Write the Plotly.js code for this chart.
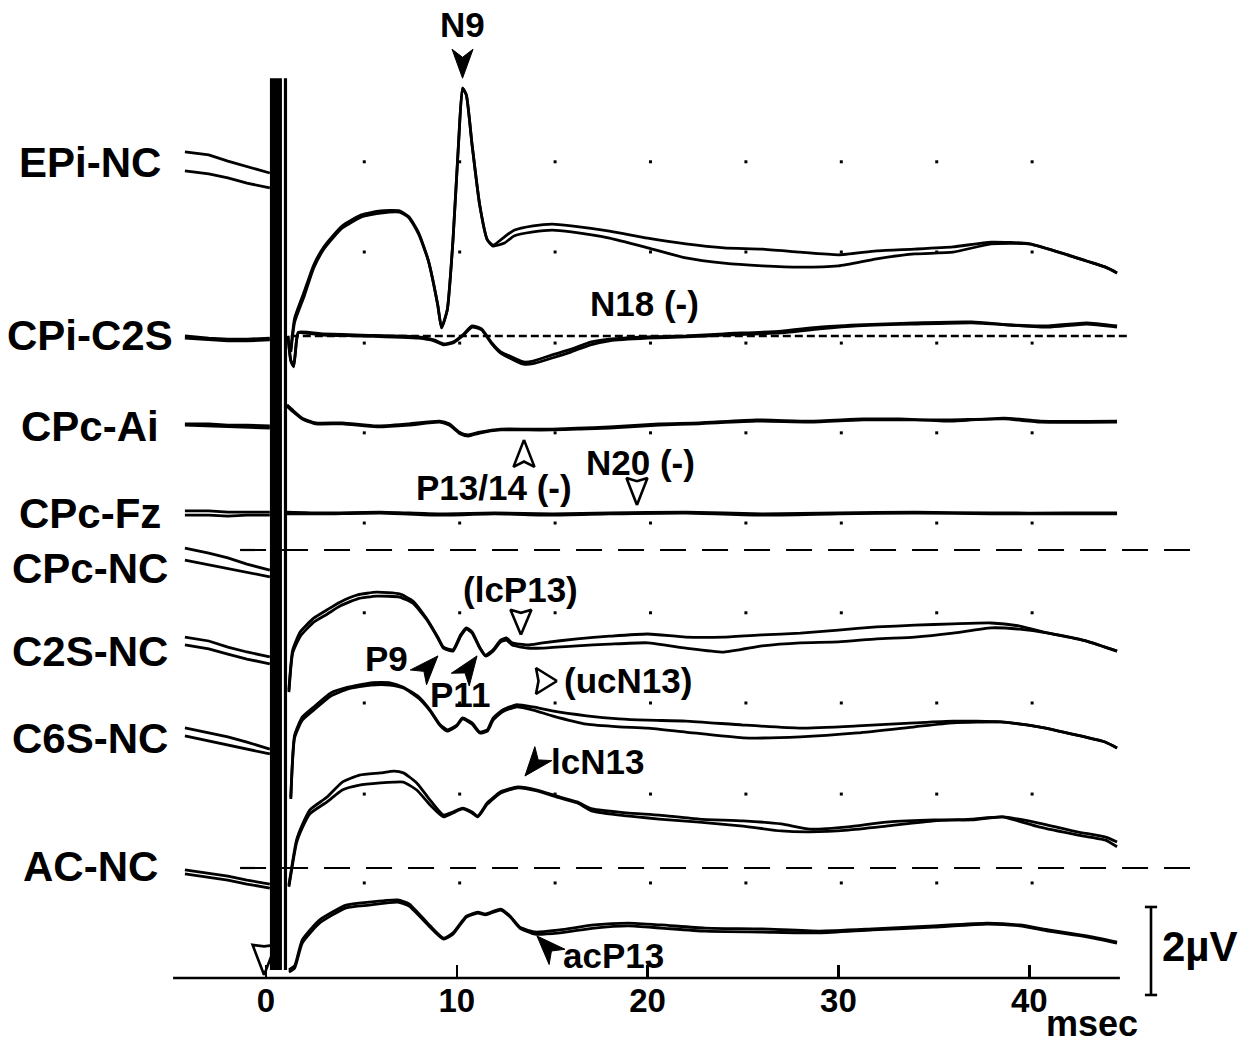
<!DOCTYPE html>
<html><head><meta charset="utf-8">
<script src="https://cdn.plot.ly/plotly-3.0.1.min.js"></script>
<style>html,body{margin:0;padding:0;background:#fff}#chart{width:1249px;height:1045px}</style>
</head><body><div id="chart"></div>
<script>
// ---------------- DATA (µV relative to each channel's reference level; time in msec) ----------------
const channelNames = ['EPi-NC','CPi-C2S','CPc-Ai','CPc-Fz','CPc-NC','C2S-NC','C6S-NC','AC-NC'];
const preTimes = [-4.25, -3, -2, -1, 0.2];

const epiPreA = [0.23, 0.16, 0.02, -0.11, -0.25];
const epiPreB = [-0.20, -0.27, -0.36, -0.48, -0.59];
const epiTimes = [1.3,1.5,2,2.5,3,3.5,4,5,6,7,7.5,8,8.5,9,9.2,9.5,9.8,10.1,10.3,10.5,10.8,11.2,11.6,11.9,12.5,13,14,15,16,18,20,22,24,26,28,30,32,34,36,38,40,42,43,44,44.6];
const epiA = [-4.27,-3.55,-2.95,-2.34,-1.95,-1.68,-1.45,-1.20,-1.11,-1.11,-1.25,-1.61,-2.23,-3.25,-3.77,-3.36,-1.77,0.50,1.68,1.52,0.39,-0.98,-1.77,-1.89,-1.70,-1.55,-1.45,-1.41,-1.45,-1.57,-1.73,-1.86,-1.95,-1.98,-2.05,-2.11,-2.02,-1.98,-1.93,-1.82,-1.86,-2.11,-2.25,-2.39,-2.52];
const epiB = [-4.32,-3.64,-3.05,-2.41,-2.00,-1.73,-1.50,-1.25,-1.16,-1.14,-1.27,-1.64,-2.23,-3.25,-3.77,-3.36,-1.77,0.50,1.68,1.52,0.39,-0.98,-1.77,-1.91,-1.84,-1.68,-1.59,-1.55,-1.59,-1.73,-1.95,-2.18,-2.30,-2.36,-2.39,-2.36,-2.20,-2.09,-2.05,-1.86,-1.86,-2.11,-2.25,-2.39,-2.52];

const cpiPreA = [0, -0.05, -0.07, -0.07, -0.05];
const cpiPreB = [-0.05, -0.09, -0.11, -0.11, -0.09];
const cpiTimes = [1.15,1.3,1.45,1.6,1.7,3,5,8,8.8,9.3,9.8,10.3,10.8,11.3,11.8,12.3,13,13.5,14,15,16,17,18,20,22,24,27,29,31,34,37,39,41,43,44.6];
const cpiA = [0,-0.55,-0.68,-0.09,0.09,0.05,0.02,-0.02,-0.09,-0.18,-0.14,0.02,0.23,0.16,-0.14,-0.36,-0.50,-0.59,-0.57,-0.43,-0.30,-0.14,-0.07,-0.02,0,0.05,0.11,0.20,0.25,0.30,0.32,0.25,0.23,0.30,0.23];
const cpiB = [0,-0.57,-0.70,-0.11,0.07,0.02,0,-0.05,-0.11,-0.20,-0.16,0,0.20,0.14,-0.16,-0.39,-0.55,-0.64,-0.63,-0.50,-0.36,-0.20,-0.11,-0.05,-0.02,0.02,0.07,0.16,0.23,0.27,0.30,0.25,0.20,0.27,0.20];

const aiPreA = [0.05, 0.05, 0.02, 0.02, 0];
const aiPreB = [0.02, 0, -0.02, -0.02, -0.05];
const aiTimes = [1.1,1.4,1.9,2.6,4,5.8,7.5,9.1,9.6,10.2,10.6,11.2,12.3,13.7,15,16.3,18,20.6,22.7,25.7,28.5,31.3,33.2,35.9,38.7,40.6,44.6];
const aiA = [0.48,0.36,0.18,0.07,0.07,0,0.05,0.11,0.05,-0.16,-0.20,-0.14,-0.07,-0.07,-0.07,-0.05,-0.02,0.05,0.07,0.14,0.11,0.16,0.16,0.11,0.18,0.11,0.11];
const aiB = [0.45,0.33,0.16,0.05,0.05,-0.02,0.02,0.09,0.02,-0.18,-0.23,-0.16,-0.09,-0.09,-0.09,-0.07,-0.05,0.02,0.05,0.11,0.09,0.14,0.14,0.14,0.16,0.09,0.09];

const fzPreA = [0.05, 0.05, 0.02, 0.02, 0.02];
const fzPreB = [-0.05, -0.05, -0.07, -0.05, -0.05];
const fzTimes = [1.1,3,6,9,12,15,18,22,26,30,34,38,42,44.6];
const fzA = [0.02,0,0.02,-0.02,0,-0.02,0,0.02,-0.02,0,0.02,0,0,0];
const fzB = [-0.02,-0.02,0,-0.05,-0.02,-0.05,-0.02,0,-0.05,-0.02,0,-0.02,-0.02,-0.02];

const cpcPreA = [0.45, 0.34, 0.23, 0.09, -0.05];
const cpcPreB = [0.18, 0.07, -0.02, -0.11, -0.20];
const cpcTimes = [1.2,1.4,1.8,2.5,3.2,3.9,4.8,5.8,7,7.7,8.4,9,9.3,9.8,10.2,10.5,10.8,11.2,11.5,11.9,12.3,12.6,12.9,13.7,14.5,16.3,18,20,22,24,26,28,30,32,34,36,38,39.5,41,43,44.6];
const cpcA = [-2.77,-1.86,-1.45,-1.14,-0.95,-0.77,-0.61,-0.55,-0.59,-0.75,-1.14,-1.57,-1.80,-1.86,-1.52,-1.36,-1.45,-1.80,-1.98,-1.86,-1.64,-1.59,-1.70,-1.75,-1.70,-1.61,-1.55,-1.50,-1.57,-1.57,-1.52,-1.48,-1.41,-1.34,-1.30,-1.27,-1.25,-1.32,-1.48,-1.66,-1.89];
const cpcB = [-2.82,-1.93,-1.55,-1.23,-1.05,-0.86,-0.70,-0.64,-0.66,-0.80,-1.16,-1.59,-1.82,-1.89,-1.55,-1.39,-1.48,-1.82,-2.00,-1.89,-1.68,-1.64,-1.75,-1.82,-1.82,-1.77,-1.73,-1.70,-1.82,-1.91,-1.77,-1.70,-1.68,-1.61,-1.57,-1.48,-1.36,-1.39,-1.48,-1.66,-1.89];

const c2sPreA = [0.34, 0.25, 0.11, 0, -0.11];
const c2sPreB = [0.16, 0.07, -0.05, -0.16, -0.27];
const c2sTimes = [1.3,1.5,1.9,2.5,3.4,4.3,5.5,6.5,7.2,8,8.6,9.1,9.5,10,10.3,10.8,11.2,11.6,11.9,12.4,13.1,14,15,16.8,18.5,20,22,25,28,31,34,36,38.5,40.5,42.5,44,44.6];
const c2sA = [-3.30,-1.89,-1.48,-1.25,-0.93,-0.80,-0.70,-0.70,-0.80,-1.02,-1.32,-1.64,-1.77,-1.66,-1.50,-1.61,-1.82,-1.77,-1.50,-1.32,-1.20,-1.25,-1.34,-1.45,-1.52,-1.55,-1.57,-1.66,-1.73,-1.68,-1.61,-1.57,-1.59,-1.70,-1.89,-2.05,-2.18];
const c2sB = [-3.34,-1.95,-1.55,-1.32,-1.00,-0.84,-0.75,-0.75,-0.82,-1.05,-1.34,-1.66,-1.80,-1.68,-1.52,-1.64,-1.84,-1.80,-1.55,-1.36,-1.25,-1.32,-1.45,-1.64,-1.70,-1.73,-1.82,-1.95,-1.93,-1.84,-1.70,-1.61,-1.59,-1.70,-1.89,-2.05,-2.18];

const c6sPreA = [0.25, 0.14, 0.05, -0.07, -0.23];
const c6sPreB = [0.07, -0.05, -0.14, -0.23, -0.34];
const c6sTimes = [1.2,1.6,1.9,2.3,3.2,4,4.9,6,6.7,7.2,7.9,8.6,9.3,9.8,10.3,10.8,11.1,11.6,12.3,13.2,14.2,15.4,16.3,17.1,18.9,20.6,22.7,25,27,28.5,30.5,32.5,35,37,38.6,40.5,42.5,44,44.6];
const c6sA = [-3.32,-2.30,-1.95,-1.61,-1.32,-0.98,-0.82,-0.77,-0.73,-0.77,-1.00,-1.39,-1.73,-1.66,-1.57,-1.66,-1.75,-1.45,-1.20,-1.09,-1.16,-1.32,-1.43,-1.59,-1.68,-1.73,-1.82,-1.86,-1.93,-2.05,-2.00,-1.89,-1.84,-1.84,-1.77,-1.91,-2.11,-2.23,-2.34];
const c6sB = [-3.36,-2.36,-2.02,-1.70,-1.43,-1.16,-1.05,-1.00,-0.98,-0.98,-1.16,-1.50,-1.77,-1.68,-1.59,-1.68,-1.77,-1.48,-1.23,-1.11,-1.18,-1.34,-1.45,-1.64,-1.75,-1.82,-1.89,-1.98,-2.09,-2.11,-2.07,-1.98,-1.86,-1.82,-1.77,-2.00,-2.18,-2.30,-2.45];

const acPreA = [-0.09, -0.16, -0.23, -0.32, -0.41];
const acPreB = [-0.18, -0.25, -0.32, -0.41, -0.50];
const acTimes = [1.2,1.5,1.9,2.8,4.2,5.4,6.9,7.5,8.6,9.3,9.8,10.5,11.1,11.5,12.3,12.8,13.3,14.1,15.4,17.2,19,20.7,23,26,29,31.8,35,37.8,39.5,41,43,44.6];
const acA = [-2.36,-2.27,-1.68,-1.23,-0.89,-0.82,-0.77,-0.86,-1.36,-1.64,-1.52,-1.14,-1.05,-1.09,-0.98,-1.14,-1.39,-1.50,-1.45,-1.34,-1.30,-1.34,-1.41,-1.43,-1.48,-1.43,-1.36,-1.30,-1.34,-1.45,-1.59,-1.73];
const acB = [-2.41,-2.32,-1.75,-1.30,-0.95,-0.89,-0.82,-0.91,-1.39,-1.66,-1.55,-1.16,-1.07,-1.11,-1.00,-1.16,-1.41,-1.55,-1.52,-1.41,-1.36,-1.41,-1.48,-1.50,-1.52,-1.45,-1.39,-1.32,-1.36,-1.48,-1.61,-1.75];

const tickValues = [0, 10, 20, 30, 40];
const tickLabels = ['0', '10', '20', '30', '40'];
const gridTimes = [5.15, 10.15, 15.15, 20.15, 25.15, 30.15, 35.15, 40.15];
const scaleBarMicroV = 2;

// ---------------- LAYOUT CONFIG (positions, not data) ----------------
const channelOffsets = [18.545, 14.591, 12.545, 10.568, 9.318, 7.409, 5.432, 2.545];
const gridRows = [2.16, 4.18, 6.25, 8.30, 10.34, 12.39, 14.43, 16.50, 18.55];
const FONT = 'Liberation Sans, Arial, Helvetica, sans-serif';
const LW = 2.8;
const PX_PER_MS = 19.08, PX_PER_UV = 44;   // plot scale (set by ranges + margins below)

const channels = [
  [epiPreA, epiPreB, epiTimes, epiA, epiB],
  [cpiPreA, cpiPreB, cpiTimes, cpiA, cpiB],
  [aiPreA, aiPreB, aiTimes, aiA, aiB],
  [fzPreA, fzPreB, fzTimes, fzA, fzB],
  [cpcPreA, cpcPreB, cpcTimes, cpcA, cpcB],
  [c2sPreA, c2sPreB, c2sTimes, c2sA, c2sB],
  [c6sPreA, c6sPreB, c6sTimes, c6sA, c6sB],
  [acPreA, acPreB, acTimes, acA, acB]
];

const traces = [];
const line = (x, y, extra) => Object.assign({type:'scatter', mode:'lines', x, y, hoverinfo:'skip', showlegend:false,
  line:{color:'#000', width:LW}}, extra || {});

// grid dots
const gx = [], gy = [];
gridRows.forEach(r => gridTimes.forEach(t => { gx.push(t); gy.push(r); }));
traces.push({type:'scatter', mode:'markers', x:gx, y:gy, hoverinfo:'skip', showlegend:false,
  marker:{symbol:'square', size:3, color:'#000'}});

// separators / reference lines
traces.push(line([-1.36, 48.8], [9.727, 9.727], {line:{color:'#000', width:2.2, dash:'26px,16px'}}));
traces.push(line([-1.36, 48.8], [2.5, 2.5], {line:{color:'#000', width:2.2, dash:'26px,16px'}}));
traces.push(line([1.3, 45.3], [channelOffsets[1], channelOffsets[1]], {line:{color:'#000', width:2.4, dash:'8px,4px'}}));

// channel traces
channels.forEach((c, i) => {
  const off = channelOffsets[i];
  const sh = v => v.map(d => d + off);
  traces.push(line(preTimes, sh(c[0])));
  traces.push(line(preTimes, sh(c[1])));
  traces.push(line(c[2], sh(c[3]), {line:{color:'#000', width:LW, shape:'spline', smoothing:0.5}}));
  traces.push(line(c[2], sh(c[4]), {line:{color:'#000', width:LW, shape:'spline', smoothing:0.5}}));
});

// stimulus artifact
traces.push(line([0.52, 0.52], [20.45, 0.18], {line:{color:'#000', width:12}}));
traces.push(line([1.02, 1.02], [20.45, 0.18], {line:{color:'#000', width:3.2}}));

// axis baseline
traces.push(line([-4.87, 44.75], [0, 0], {line:{color:'#000', width:2.6}}));

// scale bar (2 µV)
const sbx = 46.38, sbTop = 1.614, sbBot = sbTop - scaleBarMicroV, cw = 0.32;
traces.push(line([sbx-cw, sbx+cw, null, sbx, sbx, null, sbx-cw, sbx+cw],
                 [sbTop, sbTop, null, sbTop, sbBot, null, sbBot, sbBot], {line:{color:'#000', width:2.6}}));

// barbed arrowheads (tip in data coords, direction in screen pixels)
function arrowHead(tx, ty, dx, dy, filled, L, W, notch) {
  const n = Math.hypot(dx, dy), ux = dx / n, uy = dy / n, vx = -uy, vy = ux;
  const pts = [[0, 0], [-L, -W / 2], [-L * notch, 0], [-L, W / 2], [0, 0]];
  const xs = [], ys = [];
  pts.forEach(([a, b]) => {
    const px = a * ux + b * vx, py = a * uy + b * vy;
    xs.push(tx + px / PX_PER_MS); ys.push(ty - py / PX_PER_UV);
  });
  traces.push(Object.assign({type:'scatter', mode:'lines', x:xs, y:ys, hoverinfo:'skip', showlegend:false,
    line:{color:'#000', width: filled ? 1 : 2.6}}, filled ? {fill:'toself', fillcolor:'#000'} : {}));
}
// filled markers
arrowHead(10.3, 20.45, 0, 1, true, 29, 21, 0.72);      // N9
arrowHead(9.01, 7.32, 20, -22, true, 29, 22, 0.72);    // P9
arrowHead(11.06, 7.32, 17, -24, true, 29, 22, 0.72);   // P11
arrowHead(13.57, 4.59, -23, 28, true, 29, 22, 0.72);   // lcN13
arrowHead(14.2, 0.955, -25, -26, true, 29, 22, 0.72);  // acP13
// open markers
arrowHead(13.52, 12.23, 0, -1, false, 27, 21, 0.8);    // P13/14
arrowHead(19.44, 10.75, 0, 1, false, 27, 21, 0.88);    // N20
arrowHead(13.36, 7.80, 0, 1, false, 25, 21, 0.88);     // lcP13
arrowHead(15.25, 6.75, 1, 0, false, 21, 26, 0.88);     // ucN13
arrowHead(-0.1, 0.07, 0, 1, false, 30, 23, 0.95);      // stimulus onset

// annotations
const ann = [];
const bold = size => ({family:FONT, size:size, color:'#000', weight:'bold'});
channelNames.forEach((n, i) => ann.push({xref:'paper', x:-0.0785, yref:'y', y:channelOffsets[i], text:n, showarrow:false,
  xanchor:'center', yanchor:'middle', font:bold(42)}));
const lab = (x, y, t, size) => ann.push({x, y, text:t, showarrow:false, xanchor:'center', yanchor:'middle', font:bold(size || 35)});
lab(10.28, 21.66, 'N9');
lab(19.81, 15.34, 'N18 (-)');
lab(11.95, 11.14, 'P13/14 (-)');
lab(19.6, 11.72, 'N20 (-)');
lab(13.36, 8.82, '(lcP13)');
lab(6.29, 7.25, 'P9');
lab(10.17, 6.45, 'P11');
lab(18.98, 6.75, '(ucN13)');
lab(17.35, 4.93, 'lcN13');
lab(18.19, 0.52, 'acP13');
lab(43.3, -1.045, 'msec', 36);
ann.push({x:46.86, y:0.727, text:'2µV', showarrow:false, xanchor:'left', yanchor:'middle', font:bold(42)});

const layout = {
  width:1249, height:1045, margin:{l:173, r:19, t:0, b:15, pad:0},
  paper_bgcolor:'#fff', plot_bgcolor:'#fff', font:{family:FONT, color:'#000'},
  showlegend:false,
  xaxis:{range:[-4.874, 50.52], anchor:'free', position:0.05049, showline:false, showgrid:false, zeroline:false,
    tickmode:'array', tickvals:tickValues, ticktext:tickLabels, ticks:'inside', ticklen:13, tickwidth:2.6, tickcolor:'#000',
    tickfont:{family:FONT, size:33, color:'#000', weight:'bold'}, fixedrange:true},
  yaxis:{range:[-1.182, 22.227], visible:false, showgrid:false, zeroline:false, fixedrange:true},
  annotations:ann
};
Plotly.newPlot('chart', traces, layout, {displayModeBar:false, staticPlot:true});
</script></body></html>
